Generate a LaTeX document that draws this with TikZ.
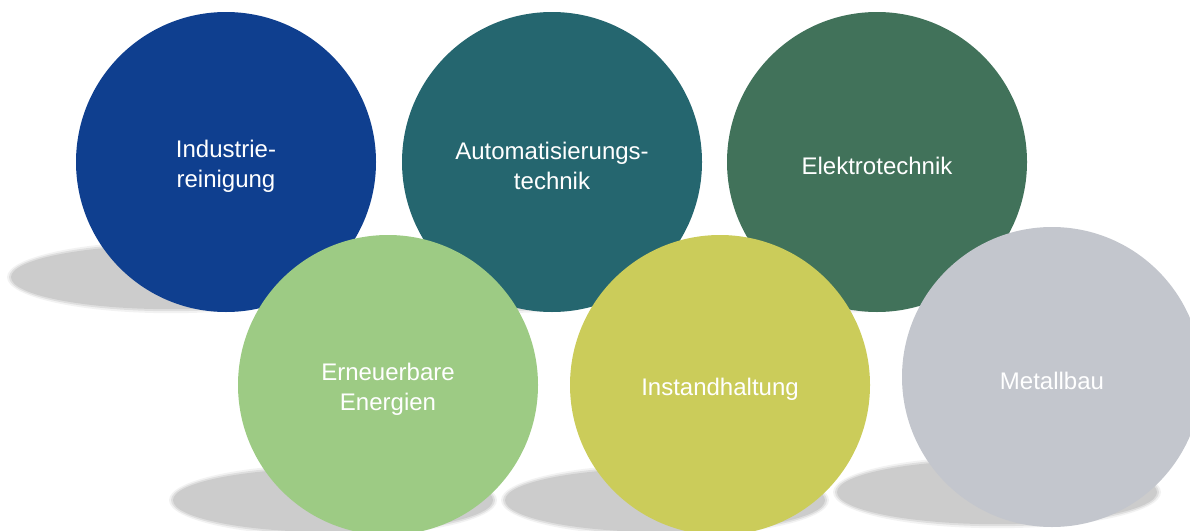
\documentclass[tikz,border=0pt]{standalone}
\usepackage{fontspec}
\setmainfont{Liberation Sans}
\usetikzlibrary{backgrounds}
\definecolor{indblue}{HTML}{0F3F8F}
\definecolor{autoteal}{HTML}{25666F}
\definecolor{elekgreen}{HTML}{41725A}
\definecolor{erngreen}{HTML}{9DCB84}
\definecolor{instyellow}{HTML}{CBCC5A}
\definecolor{metgray}{HTML}{C3C6CD}
\definecolor{shadowgray}{HTML}{CCCCCC}

\begin{document}
\begin{tikzpicture}[x=1pt, y=-1pt,
    bubble/.style={circle, minimum size=300pt, inner sep=0pt},
    bubtext/.style={text=white, align=center, font=\fontsize{24}{30}\selectfont}]
  \useasboundingbox (0,0) rectangle (1190,530);
  % circles, top row first so that the bottom row lies over it
  \foreach \x/\y/\col/\name/\txt in {226/162/indblue/ind/{Industrie-\\reinigung},
      552/162/autoteal/auto/{Automatisierungs-\\technik}, 877/162/elekgreen/elek/{Elektrotechnik},
      388/385/erngreen/ern/{Erneuerbare\\Energien}, 720/385/instyellow/inst/{Instandhaltung},
      1052/377/metgray/met/{Metallbau}}{
    \node[bubble, fill=\col] (\name) at (\x,\y) {};
    \node[bubtext] (\name-t) at ([yshift=-4pt]\name.center) {\txt};
    % soft shadow under each circle
    \begin{pgfonlayer}{background}
      \foreach \g/\o in {4/0.25,2/0.5,0/1}
        \fill[shadowgray, opacity=\o] ([shift={(-55pt,35pt)}]\name.south) ellipse[x radius=160pt+\g pt, y radius=32pt+\g pt];
    \end{pgfonlayer}
  }
\end{tikzpicture}
\end{document}
